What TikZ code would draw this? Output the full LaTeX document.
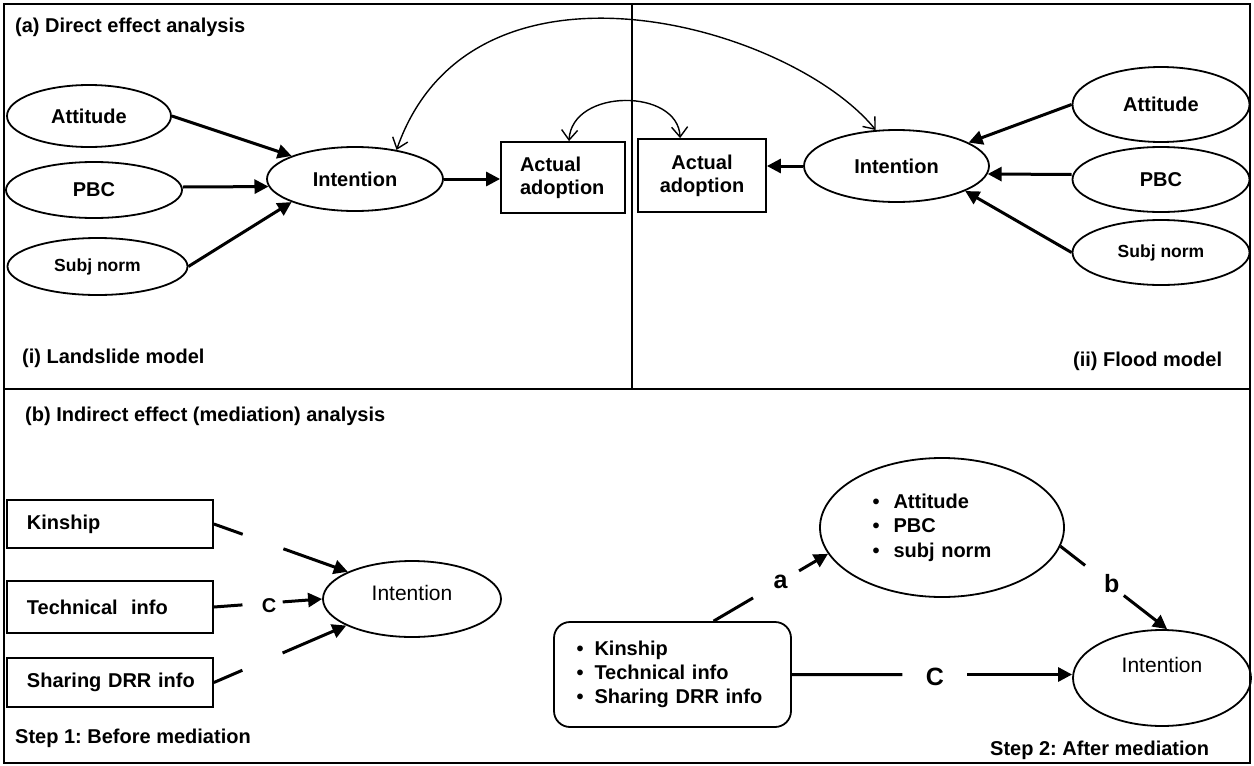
\documentclass[tikz,border=0pt]{standalone}
\usepackage{fontspec}
\setmainfont{Liberation Sans}
\usetikzlibrary{arrows.meta,calc,shapes.geometric}
\begin{document}
\frenchspacing
\begin{tikzpicture}[x=1pt,y=-1pt,
  frame/.style={line width=2pt},
  ell/.style={draw,ellipse,line width=1.8pt,inner sep=0pt,font=\fontsize{20}{23}\selectfont\bfseries},
  smallell/.style={ell,font=\fontsize{17.5}{20}\selectfont\bfseries},
  lightell/.style={ell,font=\fontsize{21}{24}\selectfont},
  boxnode/.style={draw,rectangle,line width=1.8pt,inner sep=0pt,font=\fontsize{20}{23}\selectfont\bfseries},
  arr/.style={line width=3pt,-{Triangle[length=14pt,width=14pt]}},
  seg/.style={line width=3pt},
  curv/.style={line width=1.4pt,{Straight Barb[length=10pt,width=16pt]}-{Straight Barb[length=10pt,width=16pt]}},
  hdr/.style={anchor=base west,inner sep=0pt,font=\fontsize{20}{23}\selectfont\bfseries},
  lab/.style={inner sep=0pt,font=\fontsize{25}{30}\selectfont\bfseries},
  smalllab/.style={inner sep=0pt,font=\fontsize{20}{24}\selectfont\bfseries},
]
\useasboundingbox (0,0) rectangle (1254,766);
\fill[white] (0,0) rectangle (1254,766);

% frames
\draw[frame] (4,4) rectangle (1250,763);
\draw[frame] (4,389) -- (1250,389);
\draw[frame] (632,4) -- (632,389);

% headings
\node[hdr] (ha) at (15,32) {(a) Direct effect analysis};
\node[hdr] (hi) at (22,363) {(i) Landslide model};
\node[hdr] (hii) at (1073,366) {(ii) Flood model};
\node[hdr] (hb) at (25,421) {(b) Indirect effect (mediation) analysis};
\node[hdr] (s1) at (15,743) {Step 1: Before mediation};
\node[hdr] (s2) at (990,755) {Step 2: After mediation};

% ---------- (i) Landslide model
\node[ell,minimum width=164pt,minimum height=62pt] (att1) at (89,116) {Attitude};
\node[ell,minimum width=176pt,minimum height=56pt] (pbc1) at (94,190) {PBC};
\node[smallell,minimum width=180pt,minimum height=57pt] (sn1) at (97.5,266.5) {Subj norm};
\node[ell,minimum width=176pt,minimum height=64pt] (int1) at (355,179) {Intention};
\node[boxnode,minimum width=124pt,minimum height=71pt,text width=86pt,align=left] (act1) at (563,177.5) {Actual\\adoption};

\draw[arr] (att1.east) -- (int1.160);
\draw[arr] ($(pbc1.east)+(0,-3)$) -- (int1.185);
\draw[arr] (sn1.east) -- (int1.200);
\draw[arr] (int1.east) -- (int1.east -| act1.west);

% ---------- (ii) Flood model
\node[boxnode,minimum width=128pt,minimum height=73pt,align=center] (act2) at (702,175.5) {Actual\\adoption};
\node[ell,minimum width=185pt,minimum height=72pt] (int2) at (896.5,166) {Intention};
\node[ell,minimum width=177pt,minimum height=75pt] (att2) at (1161,104.5) {Attitude};
\node[ell,minimum width=177pt,minimum height=65pt] (pbc2) at (1161,179.5) {PBC};
\node[smallell,minimum width=177pt,minimum height=65pt] (sn2) at (1161,252.5) {Subj norm};

\draw[arr] (att2.west) -- (int2.18);
\draw[arr] ($(pbc2.west)+(0,-5)$) -- (int2.-5);
\draw[arr] (sn2.west) -- (int2.-20);
\draw[arr] (int2.west) -- (int2.west -| act2.east);

% curved links
\draw[curv] (int1.35) .. controls (472,-65) and (790,25) .. (int2.120);
\draw[curv] ($(act1.north)+(6,0)$) .. controls (572,88) and (678,88) .. ($(act2.north west)+(43,0)$);

% ---------- Step 1
\node[boxnode,minimum width=206pt,minimum height=48pt,text width=166pt,align=left] (kin) at (110,524) {Kinship};
\node[boxnode,minimum width=206pt,minimum height=52pt,text width=166pt,align=left] (tech) at (110,607) {\mbox{Technical\ \ info}};
\node[boxnode,minimum width=206pt,minimum height=49pt,text width=166pt,align=left] (shr) at (110,682.5) {\mbox{Sharing DRR info}};
\node[lightell,minimum width=178pt,minimum height=76pt,text height=14pt,text depth=12pt] (int4) at (412,599) {Intention};

\draw[seg] (kin.east) -- ($(kin.east)!0.215!(int4.157)$);
\draw[arr] ($(kin.east)!0.519!(int4.157)$) -- (int4.157);
\draw[seg] (tech.east) -- ($(tech.east)!0.264!(int4.west)$);
\draw[arr] ($(tech.east)!0.636!(int4.west)$) -- (int4.west);
\node[smalllab] (c1) at ($(tech.east)!0.51!(int4.west)+(0,3)$) {C};
\draw[seg] (shr.east) -- ($(shr.east)!0.215!(int4.202)$);
\draw[arr] ($(shr.east)!0.519!(int4.202)$) -- (int4.202);

% ---------- Step 2
\node[draw,rounded corners=16pt,line width=1.8pt,minimum width=237pt,minimum height=105pt,text width=192pt,align=left,inner sep=0pt,font=\fontsize{20}{24}\selectfont\bfseries] (src) at (672.5,674.5)
 {\textbullet\hspace{11pt}Kinship\\\textbullet\hspace{11pt}Technical info\\\textbullet\hspace{11pt}Sharing DRR info};
\node[ell,minimum width=244pt,minimum height=139pt,text width=139pt,align=left,font=\fontsize{20}{24.5}\selectfont\bfseries] (med) at (942,527.5)
 {\textbullet\hspace{14pt}Attitude\\\textbullet\hspace{14pt}PBC\\\textbullet\hspace{14pt}subj norm};
\node[lightell,minimum width=178pt,minimum height=96pt,text height=14pt,text depth=26pt] (int3) at (1162,678) {Intention};

\coordinate (srcA) at ($(src.north west)+(160.5,0)$);
\draw[seg] (srcA) -- ($(srcA)!0.345!(med.193)$);
\draw[arr] ($(srcA)!0.747!(med.193)$) -- (med.193);
\node[lab] (la) at ($(srcA)!0.585!(med.193)$) {a};

\draw[seg] (med.-9) -- ($(med.-9)!0.231!(int3.84)$);
\draw[arr] ($(med.-9)!0.594!(int3.84)$) -- (int3.84);
\node[lab] (lb) at ($(med.-9)!0.48!(int3.84)+(0,-3)$) {b};

\coordinate (cEnd) at (src.east -| int3.west);
\draw[seg] (src.east) -- ($(src.east)!0.394!(cEnd)$);
\draw[arr] ($(src.east)!0.626!(cEnd)$) -- (cEnd);
\node[lab] (lc) at ($(src.east)!0.51!(cEnd)+(0,2)$) {C};
\end{tikzpicture}
\end{document}
